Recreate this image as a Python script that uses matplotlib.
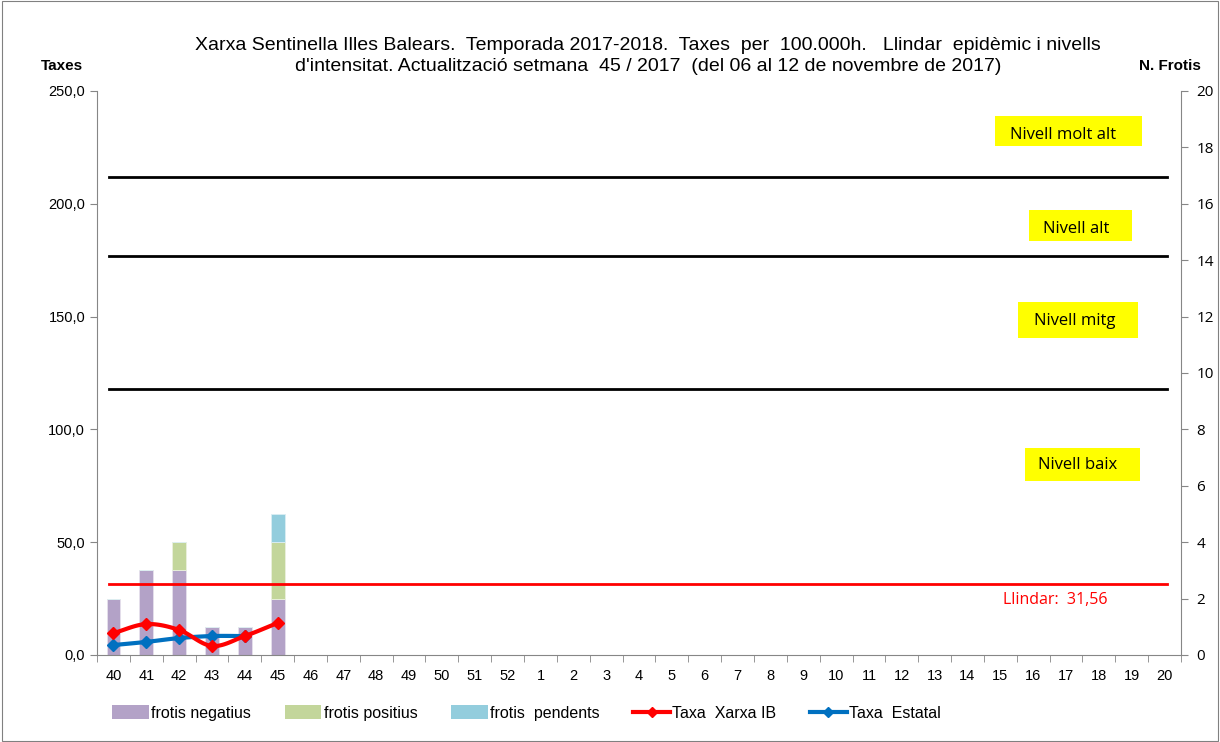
import matplotlib
matplotlib.use("Agg")
import matplotlib.pyplot as plt
import numpy as np
from matplotlib.patches import Rectangle, Patch
from matplotlib.lines import Line2D

weeks = [str(w) for w in range(40, 53)] + [str(w) for w in range(1, 21)]
frotis_negatius = [2, 3, 3, 1, 1, 2]
frotis_positius = [0, 0, 1, 0, 0, 2]
frotis_pendents = [0, 0, 0, 0, 0, 1]
taxa_xarxa_ib = [9.7, 13.7, 11.1, 4.0, 8.4, 14.2]
taxa_estatal = [4.4, 5.8, 7.5, 8.4, 8.4]
llindar = 31.56
nivells = [117.9, 176.9, 212.0]
nivell_labels = ["Nivell baix", "Nivell mitg", "Nivell alt", "Nivell molt alt"]

title = ("Xarxa Sentinella Illes Balears.  Temporada 2017-2018.  Taxes  per  100.000h.   Llindar  epidèmic i nivells\n"
         "d'intensitat. Actualització setmana  45 / 2017  (del 06 al 12 de novembre de 2017)")

sans = ["Liberation Sans", "DejaVu Sans"]
calib = ["Open Sans", "DejaVu Sans"]

W, H = 1220, 742
fig = plt.figure(figsize=(12.2, 7.42), dpi=100)
fig.patches.append(Rectangle((0.002, 0.002), 0.996, 0.996, transform=fig.transFigure,
                             fill=False, edgecolor="#808080", linewidth=0.8))
ax = fig.add_axes([97/W, 87/H, (1181-97)/W, (655-91)/H])
ax2 = ax.twinx()

n = len(weeks)
x = np.arange(n)

def smooth(xs, ys, k=20):
    xs = np.asarray(xs, float); ys = np.asarray(ys, float)
    px = np.concatenate([[2*xs[0]-xs[1]], xs, [2*xs[-1]-xs[-2]]])
    py = np.concatenate([[2*ys[0]-ys[1]], ys, [2*ys[-1]-ys[-2]]])
    ox, oy = [], []
    for i in range(1, len(px)-2):
        t = np.linspace(0, 1, k, endpoint=False)
        for arr, out in ((px, ox), (py, oy)):
            p0, p1, p2, p3 = arr[i-1], arr[i], arr[i+1], arr[i+2]
            out.extend(0.5*((2*p1) + (-p0+p2)*t + (2*p0-5*p1+4*p2-p3)*t**2 + (-p0+3*p1-3*p2+p3)*t**3))
    ox.append(xs[-1]); oy.append(ys[-1])
    return np.array(ox), np.array(oy)

# bars on right axis
nb = len(frotis_negatius)
neg = np.array(frotis_negatius, float)
pos = np.array(frotis_positius, float)
pen = np.array(frotis_pendents, float)
bw = 0.42
ax2.bar(x[:nb], neg, bw, color="#B3A2C7", edgecolor="#E6E0EC", linewidth=0.6, zorder=2)
ax2.bar(x[:nb], pos, bw, bottom=neg, color="#C3D69B", edgecolor="#EBF1DE", linewidth=0.6, zorder=2)
ax2.bar(x[:nb], pen, bw, bottom=neg+pos, color="#93CDDD", edgecolor="#DBEEF4", linewidth=0.6, zorder=2)
ax2.set_ylim(0, 20)
ax2.set_yticks(range(0, 21, 2))

ax.set_zorder(ax2.get_zorder() + 1)
ax.patch.set_visible(False)

for lvl in nivells:
    ax.plot([x[0]-0.12, x[-1]+0.06], [lvl, lvl], color="black", linewidth=2, zorder=3)
ax.plot([x[0]-0.12, x[-1]+0.06], [llindar, llindar], color="#FF0000", linewidth=2, zorder=3)

sx, sy = smooth(x[:len(taxa_xarxa_ib)], taxa_xarxa_ib)
ax.plot(sx, sy, color="#FF0000", linewidth=3, zorder=5)
ax.plot(x[:len(taxa_xarxa_ib)], taxa_xarxa_ib, linestyle="none", marker="D", markersize=6,
        color="#FF0000", zorder=6)
bx, by = smooth(x[:len(taxa_estatal)], taxa_estatal)
ax.plot(bx, by, color="#0070C0", linewidth=3, zorder=4)
ax.plot(x[:len(taxa_estatal)], taxa_estatal, linestyle="none", marker="D", markersize=6,
        color="#0070C0", zorder=4)

ax.set_xlim(-0.5, n - 0.5)
ax.set_ylim(0, 250)
ax.set_yticks(np.arange(0, 251, 50))
ax.set_yticklabels([f"{v:.1f}".replace(".", ",") for v in np.arange(0, 251, 50)], family=sans, fontsize=10.5)
ax.set_xticks(x)
ax.set_xticklabels(weeks, family=sans, fontsize=10.5)
ax.set_xticks(np.arange(-0.5, n, 1), minor=True)
ax.tick_params(axis="x", which="major", length=0, pad=10)
ax.tick_params(axis="x", which="minor", length=5, color="#868686")
ax.tick_params(axis="y", length=5, color="#868686", direction="out")
for t in ax2.get_yticklabels():
    t.set_family(calib); t.set_fontsize(11)
ax2.tick_params(axis="y", length=5, color="#868686", direction="out", pad=6)

for a in (ax, ax2):
    a.spines["top"].set_visible(False)
    for s in ("left", "right", "bottom"):
        a.spines[s].set_color("#868686")
ax2.spines["left"].set_visible(False)
ax2.spines["bottom"].set_visible(False)
ax.spines["right"].set_visible(False)

# level labels: (box x0, x1, y0, y1, text center x, text center y) in pixels
boxes = [(1025, 1140, 448, 481, 1078, 465),
         (1018, 1138, 302, 338, 1075, 321),
         (1029, 1132, 210, 241, 1076, 229),
         (995, 1142, 116, 146, 1063, 135)]
for (x0, x1, y0, y1, tx, ty), lab in zip(boxes, nivell_labels):
    fig.patches.append(Rectangle((x0/W, 1 - y1/H), (x1-x0)/W, (y1-y0)/H, transform=fig.transFigure,
                                 facecolor="#FFFF00", edgecolor="none", zorder=5))
    fig.text(tx/W, 1 - ty/H, lab, ha="center", va="center", fontsize=12, family=calib,
             color="black", zorder=6)
fig.text(1055/W, 1 - 600/H, "Llindar:  31,56", ha="center", va="center", fontsize=11.5,
         family=calib, color="#FF0000")

fig.text(648/W, 1 - 56/H, title, ha="center", va="center",
         fontsize=14, family=sans, linespacing=1.35)
fig.text(62/W, 1 - 66/H, "Taxes", ha="center", va="center", fontsize=11, weight="bold", family=sans)
fig.text(1170/W, 1 - 66/H, "N. Frotis", ha="center", va="center", fontsize=11, weight="bold", family=sans)

# legend
handles = [Patch(facecolor="#B3A2C7"), Patch(facecolor="#C3D69B"), Patch(facecolor="#93CDDD"),
           Line2D([], [], color="#FF0000", linewidth=3, marker="D", markersize=5),
           Line2D([], [], color="#0070C0", linewidth=3, marker="D", markersize=5)]
labels = ["frotis negatius", "frotis positius", "frotis  pendents", "Taxa  Xarxa IB", "Taxa  Estatal"]
fig.legend(handles, labels, loc="center left", bbox_to_anchor=(112/W, 1 - 713/H), ncol=5,
           frameon=False, prop=dict(family=sans, size=11.5), handlelength=2.3, handleheight=0.9,
           columnspacing=2.1, handletextpad=0.15, borderpad=0, borderaxespad=0)

fig.savefig("out.png", dpi=100)
